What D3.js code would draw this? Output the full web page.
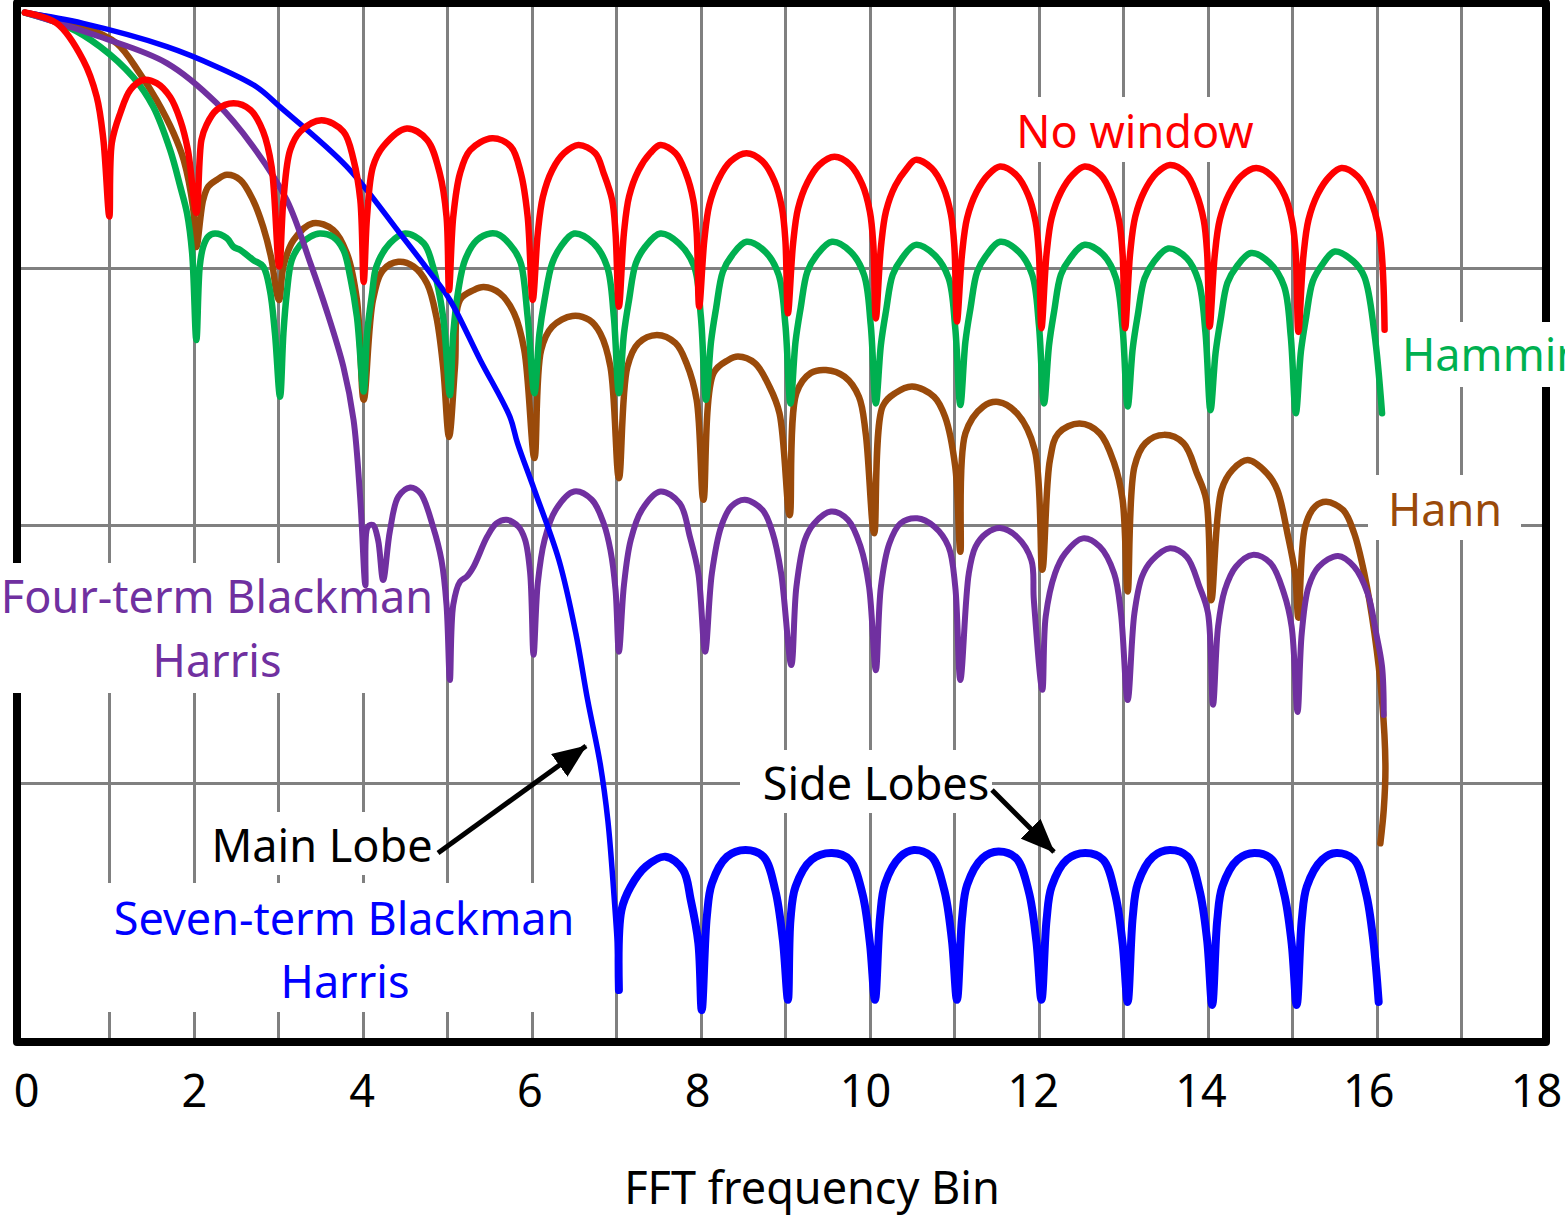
<!DOCTYPE html>
<html lang="en">

<head>
    <meta charset="UTF-8">
    <title>FFT window spectra</title>
    <script src="https://d3js.org/d3.v7.min.js"></script>
    <style>
        body { margin: 0; background: white; }
        svg text { font-family: "Noto Sans", "Open Sans", sans-serif; }
    </style>
</head>

<body>
    <script>
        // x in FFT bins, y in dB
        const xTicks = [0, 2, 4, 6, 8, 10, 12, 14, 16, 18];
        const gridBins = [1, 2, 3, 4, 5, 6, 7, 8, 9, 10, 11, 12, 13, 14, 15, 16, 17];
        const gridDb = [-50, -100, -150];

        const noWindow = [
            [0, -0.5], [0.38, -2.6], [0.69, -9.7], [0.85, -16.8], [0.93, -25.2], [1.00, -40.1],
            [1.03, -25.8], [1.13, -20.0], [1.25, -15.5], [1.40, -13.6], [1.56, -14.2], [1.72, -16.9], [1.84, -21.4], [1.93, -27.2], [2.03, -39.4],
            [2.09, -25.2], [2.15, -22.3], [2.27, -19.4], [2.47, -18.1], [2.67, -19.4], [2.82, -23.6], [2.92, -30.4], [3.01, -49.8],
            [3.06, -36.9], [3.14, -27.2], [3.26, -23.6], [3.51, -21.4], [3.77, -23.6], [3.89, -29.1], [3.97, -36.9], [4.01, -52.8],
            [4.05, -40.1], [4.12, -30.4], [4.24, -26.5], [4.52, -23.0], [4.76, -25.2], [4.91, -31.7], [4.99, -40.1], [5.02, -54.4],
            [5.07, -40.1], [5.15, -31.7], [5.27, -27.2], [5.53, -24.9], [5.75, -26.5], [5.87, -31.7], [5.95, -40.1], [6.01, -56.3],
            [6.07, -43.3], [6.13, -36.3], [6.24, -31.1], [6.38, -27.8], [6.55, -26.2], [6.75, -27.8], [6.85, -31.7], [6.95, -36.9], [6.99, -43.3], [7.03, -57.6],
            [7.09, -43.2], [7.15, -36.2], [7.26, -31.2], [7.40, -27.8], [7.52, -26.2], [7.70, -27.8], [7.82, -31.6], [7.91, -36.9], [7.95, -43.2], [7.98, -57.6],
            [8.04, -44.8], [8.10, -37.8], [8.21, -32.8], [8.35, -29.4], [8.54, -27.8], [8.73, -29.4], [8.87, -33.2], [8.96, -38.5], [9.00, -44.8], [9.03, -58.9],
            [9.09, -45.5], [9.15, -38.5], [9.26, -33.5], [9.40, -30.1], [9.58, -28.5], [9.77, -30.1], [9.91, -33.9], [10.00, -39.2], [10.04, -45.5], [10.07, -59.9],
            [10.13, -46.1], [10.19, -39.1], [10.30, -34.1], [10.44, -30.7], [10.54, -29.1], [10.73, -30.7], [10.87, -34.5], [10.96, -39.8], [11.00, -46.1], [11.03, -60.5],
            [11.09, -47.4], [11.15, -40.4], [11.26, -35.4], [11.40, -32.0], [11.54, -30.4], [11.73, -32.0], [11.87, -35.8], [11.96, -41.1], [12.00, -47.4], [12.03, -61.8],
            [12.09, -47.4], [12.15, -40.4], [12.26, -35.4], [12.40, -32.0], [12.54, -30.4], [12.73, -32.0], [12.86, -35.8], [12.95, -41.1], [12.99, -47.4], [13.02, -61.8],
            [13.08, -47.1], [13.14, -40.1], [13.25, -35.1], [13.39, -31.7], [13.55, -30.1], [13.74, -31.7], [13.86, -35.5], [13.95, -40.8], [13.99, -47.1], [14.02, -61.5],
            [14.08, -47.7], [14.14, -40.7], [14.25, -35.7], [14.39, -32.3], [14.57, -30.7], [14.76, -32.3], [14.91, -36.1], [15.00, -41.4], [15.04, -47.7], [15.07, -62.5],
            [15.13, -47.7], [15.19, -40.7], [15.30, -35.7], [15.44, -32.3], [15.58, -30.7], [15.77, -32.3], [15.90, -35.8], [16.03, -43.4], [16.09, -62.1]
        ];

        const hamming = [
            [0, -0.5], [0.50, -3.2], [0.89, -7.1], [1.28, -13.0], [1.52, -18.8], [1.72, -27.2], [1.84, -34.3], [1.92, -39.5], [1.98, -47.2], [2.03, -64.1],
            [2.07, -49.8], [2.11, -46.0], [2.17, -44.0], [2.25, -43.4], [2.39, -44.3], [2.47, -46.0], [2.55, -46.6], [2.70, -48.5], [2.82, -49.8], [2.90, -54.4], [2.96, -62.8], [3.02, -75.1],
            [3.06, -62.8], [3.10, -55.0], [3.16, -48.5], [3.26, -45.6], [3.38, -44.0], [3.49, -43.4], [3.65, -44.1], [3.77, -46.6], [3.85, -51.8], [3.93, -59.6], [4.01, -74.1],
            [4.05, -62.8], [4.11, -55.0], [4.16, -49.8], [4.32, -45.3], [4.50, -43.4], [4.72, -45.3], [4.83, -49.8], [4.95, -59.6], [5.03, -74.8],
            [5.07, -62.8], [5.13, -54.4], [5.21, -48.5], [5.35, -44.7], [5.51, -43.4], [5.62, -43.7], [5.79, -46.6], [5.87, -49.2], [5.95, -59.6], [6.03, -74.4],
            [6.09, -62.8], [6.15, -56.3], [6.24, -49.2], [6.34, -46.0], [6.50, -43.4], [6.73, -45.3], [6.89, -49.8], [6.97, -59.6], [7.03, -74.4],
            [7.09, -62.8], [7.15, -56.3], [7.23, -49.2], [7.34, -46.0], [7.52, -43.4], [7.74, -45.3], [7.92, -49.8], [8.00, -59.6], [8.06, -75.7],
            [8.12, -64.4], [8.18, -57.9], [8.26, -50.8], [8.37, -47.6], [8.54, -45.0], [8.76, -46.9], [8.92, -51.4], [9.00, -61.2], [9.06, -76.4],
            [9.12, -64.4], [9.18, -57.9], [9.26, -50.8], [9.37, -47.6], [9.55, -45.0], [9.77, -46.9], [9.93, -51.4], [10.01, -61.2], [10.07, -76.4],
            [10.13, -65.0], [10.19, -58.5], [10.27, -51.4], [10.38, -48.2], [10.54, -45.6], [10.76, -47.5], [10.93, -52.0], [11.01, -61.8], [11.07, -76.7],
            [11.13, -64.4], [11.19, -57.9], [11.27, -50.8], [11.38, -47.6], [11.54, -45.0], [11.76, -46.9], [11.92, -51.4], [12.00, -61.2], [12.06, -76.4],
            [12.12, -65.0], [12.18, -58.5], [12.26, -51.4], [12.37, -48.2], [12.54, -45.6], [12.76, -47.5], [12.91, -52.0], [12.99, -61.8], [13.05, -77.0],
            [13.11, -65.7], [13.17, -59.2], [13.25, -52.1], [13.36, -48.9], [13.53, -46.3], [13.75, -48.2], [13.89, -52.7], [13.97, -62.5], [14.03, -77.7],
            [14.09, -66.6], [14.15, -60.1], [14.23, -53.0], [14.34, -49.8], [14.51, -47.2], [14.73, -49.1], [14.90, -53.6], [14.98, -63.4], [15.04, -78.3],
            [15.10, -66.3], [15.16, -59.8], [15.24, -52.7], [15.35, -49.5], [15.50, -46.9], [15.72, -48.8], [15.85, -51.8], [15.97, -62.8], [16.06, -78.3]
        ];

        const hann = [
            [0, -0.5], [0.69, -3.2], [1.09, -6.5], [1.36, -12.3], [1.56, -17.5], [1.76, -23.9], [1.88, -29.1], [1.99, -38.2], [2.03, -46.0],
            [2.11, -36.9], [2.17, -34.3], [2.27, -33.0], [2.39, -32.0], [2.55, -33.0], [2.70, -36.9], [2.82, -42.1], [2.92, -48.5], [2.98, -55.0], [3.01, -56.3],
            [3.06, -49.8], [3.18, -44.7], [3.41, -41.4], [3.65, -42.7], [3.81, -47.2], [3.93, -56.3], [4.01, -75.7],
            [4.12, -56.3], [4.24, -50.5], [4.42, -48.9], [4.60, -49.8], [4.76, -53.1], [4.87, -59.6], [4.95, -69.3], [5.02, -82.9],
            [5.09, -69.3], [5.15, -56.3], [5.31, -54.4], [5.43, -53.8], [5.62, -55.0], [5.79, -58.9], [5.91, -66.0], [6.03, -87.0],
            [6.11, -66.0], [6.24, -61.5], [6.48, -59.4], [6.68, -60.2], [6.81, -62.8], [6.93, -69.3], [7.03, -90.9],
            [7.13, -69.3], [7.26, -64.7], [7.48, -63.1], [7.70, -64.7], [7.83, -68.6], [7.95, -75.7], [8.03, -95.1],
            [8.15, -70.5], [8.32, -68.0], [8.44, -67.3], [8.64, -68.6], [8.81, -73.1], [8.93, -78.3], [9.05, -98.1],
            [9.13, -74.4], [9.30, -70.5], [9.48, -69.9], [9.70, -71.2], [9.87, -75.1], [9.95, -82.2], [10.05, -101.6],
            [10.15, -77.0], [10.30, -74.4], [10.50, -73.1], [10.76, -75.1], [10.89, -79.0], [11.01, -88.7], [11.07, -105.2],
            [11.13, -82.2], [11.34, -77.0], [11.52, -76.1], [11.74, -78.3], [11.95, -85.4], [12.04, -108.7],
            [12.13, -87.4], [12.23, -82.2], [12.48, -80.3], [12.72, -82.2], [12.89, -88.0], [12.99, -95.1], [13.05, -112.9],
            [13.13, -88.7], [13.26, -84.1], [13.48, -82.5], [13.71, -84.1], [13.87, -90.0], [13.98, -95.1], [14.04, -114.6],
            [14.16, -93.2], [14.29, -89.3], [14.47, -87.4], [14.70, -90.0], [14.82, -93.2], [14.94, -101.6], [15.03, -109.4], [15.07, -118.0],
            [15.15, -100.3], [15.27, -96.4], [15.40, -95.5], [15.60, -97.1], [15.73, -101.6], [15.85, -109.4], [15.97, -121.0],
            [16.06, -134.0], [16.10, -146.9], [16.08, -155.3], [16.04, -161.8]
        ];

        const blackmanHarris4 = [
            [0, -0.5], [0.89, -5.2], [1.68, -10.3], [2.27, -18.1], [2.70, -26.5], [3.10, -36.9], [3.38, -49.2], [3.57, -58.3], [3.77, -69.3], [3.89, -79.6], [3.97, -95.1], [4.03, -111.7],
            [4.06, -100.3], [4.12, -100.0], [4.18, -102.9], [4.24, -110.7],
            [4.32, -101.2], [4.42, -94.5], [4.56, -92.7], [4.68, -93.8], [4.83, -100.3], [4.93, -106.8], [4.99, -115.5], [5.03, -130.1],
            [5.07, -115.5], [5.15, -111.0], [5.23, -110.0], [5.31, -108.1], [5.47, -102.3], [5.58, -99.7], [5.70, -99.0], [5.84, -100.3], [5.92, -102.9], [5.98, -109.4], [6.02, -125.2],
            [6.07, -111.3], [6.15, -102.9], [6.28, -97.1], [6.50, -93.5], [6.71, -95.1], [6.85, -99.7], [6.93, -104.9], [6.99, -112.6], [7.03, -124.6],
            [7.09, -111.6], [7.17, -102.9], [7.30, -97.1], [7.52, -93.5], [7.75, -95.8], [7.87, -102.3], [7.97, -109.4], [8.05, -124.6],
            [8.13, -109.4], [8.24, -100.3], [8.36, -96.4], [8.52, -95.1], [8.73, -97.1], [8.85, -101.6], [8.95, -109.4], [9.07, -127.2],
            [9.13, -112.0], [9.23, -102.9], [9.34, -99.7], [9.54, -97.4], [9.74, -99.0], [9.89, -104.2], [9.99, -112.0], [10.07, -128.2],
            [10.13, -112.0], [10.23, -103.6], [10.36, -99.7], [10.56, -98.7], [10.76, -100.3], [10.93, -104.2], [11.01, -112.0], [11.07, -130.1],
            [11.17, -109.4], [11.25, -104.2], [11.38, -101.6], [11.54, -100.6], [11.74, -102.3], [11.91, -106.8], [11.94, -114.6], [12.04, -132.0],
            [12.08, -117.8], [12.19, -109.4], [12.31, -105.5], [12.52, -102.6], [12.72, -104.2], [12.89, -109.4], [12.97, -117.1], [13.05, -134.0],
            [13.13, -117.1], [13.22, -110.0], [13.34, -106.8], [13.55, -104.5], [13.75, -106.2], [13.90, -112.0], [14.00, -117.1], [14.06, -134.9],
            [14.12, -119.7], [14.20, -112.6], [14.33, -108.1], [14.53, -105.8], [14.74, -107.4], [14.90, -113.3], [14.99, -119.7], [15.06, -136.3],
            [15.11, -121.0], [15.19, -112.0], [15.31, -108.1], [15.54, -106.0], [15.73, -108.1], [15.89, -113.3], [15.99, -121.0], [16.06, -127.5], [16.08, -136.9]
        ];

        const blackmanHarris7 = [
            [0, -0.5], [0.69, -2.6], [1.68, -7.1], [2.27, -11.0], [2.74, -14.9], [3.02, -18.8], [3.81, -30.4], [4.44, -43.4], [4.80, -51.1], [5.03, -56.3],
            [5.39, -68.0], [5.74, -79.0], [5.83, -84.1], [6.03, -93.2], [6.32, -106.8], [6.52, -121.0], [6.66, -134.0], [6.81, -146.5], [6.90, -157.5],
            [6.97, -171.5], [7.01, -181.2], [7.03, -190.3],
            [7.06, -174.8], [7.17, -170.2], [7.35, -166.3], [7.58, -164.4], [7.79, -167.0], [7.88, -172.8], [7.97, -181.2], [8.01, -194.2],
            [8.07, -176.1], [8.13, -169.6], [8.31, -164.4], [8.53, -163.1], [8.74, -164.4], [8.88, -170.9], [8.97, -180.6], [9.03, -192.2],
            [9.06, -176.7], [9.12, -170.2], [9.31, -165.0], [9.55, -163.7], [9.76, -165.0], [9.91, -171.5], [10.00, -181.2], [10.06, -192.2],
            [10.12, -176.1], [10.18, -169.6], [10.36, -164.4], [10.52, -163.1], [10.73, -164.4], [10.88, -170.9], [10.97, -180.6], [11.03, -192.2],
            [11.09, -176.4], [11.15, -169.9], [11.33, -164.7], [11.52, -163.4], [11.73, -164.7], [11.88, -171.2], [11.97, -180.9], [12.03, -192.2],
            [12.09, -176.7], [12.15, -170.2], [12.33, -165.0], [12.55, -163.7], [12.76, -165.0], [12.90, -171.5], [12.99, -181.2], [13.05, -192.6],
            [13.11, -176.1], [13.17, -169.6], [13.35, -164.4], [13.55, -163.1], [13.76, -164.4], [13.90, -170.9], [13.99, -180.6], [14.05, -193.2],
            [14.11, -176.7], [14.17, -170.2], [14.35, -165.0], [14.55, -163.7], [14.76, -165.0], [14.90, -171.5], [14.99, -181.2], [15.05, -193.2],
            [15.11, -176.7], [15.17, -170.2], [15.35, -165.0], [15.52, -163.7], [15.73, -165.0], [15.87, -171.5], [15.96, -181.2], [16.02, -192.6]
        ];

        const width = 1565;
        const height = 1217;

        const svg = d3.select("body").append("svg")
            .attr("width", width)
            .attr("height", height);

        const x = d3.scaleLinear().domain([0, 18]).range([24.8, 1546]);
        const xLabel = d3.scaleLinear().domain([0, 18]).range([26, 1536]);   // tick labels sit a little left
        const y = d3.scaleLinear().domain([-200, 0]).range([1040, 10]);

        // grid (snapped to whole pixels so the 3px lines stay crisp)
        svg.append("g").selectAll("line")
            .data(gridBins)
            .enter().append("line")
            .attr("x1", d => Math.round(x(d)) + 0.5).attr("x2", d => Math.round(x(d)) + 0.5)
            .attr("y1", 3).attr("y2", 1042)
            .attr("stroke", "#808080").attr("stroke-width", 3);

        svg.append("g").selectAll("line")
            .data(gridDb)
            .enter().append("line")
            .attr("x1", 17).attr("x2", 1546)
            .attr("y1", d => Math.round(y(d)) + 0.5).attr("y2", d => Math.round(y(d)) + 0.5)
            .attr("stroke", "#808080").attr("stroke-width", 3);

        // frame
        svg.append("rect")
            .attr("x", 17).attr("y", 3)
            .attr("width", 1529).attr("height", 1039)
            .attr("fill", "none")
            .attr("stroke", "black").attr("stroke-width", 8)
            .attr("stroke-linejoin", "round");

        // white boxes behind the labels
        const boxes = [
            [1000, 97, 265, 65], [1390, 322, 180, 65], [1368, 475, 153, 65],
            [0, 563, 440, 130], [200, 812, 240, 63], [100, 883, 490, 129], [740, 750, 252, 63]
        ];
        svg.append("g").selectAll("rect")
            .data(boxes)
            .enter().append("rect")
            .attr("x", d => d[0]).attr("y", d => d[1])
            .attr("width", d => d[2]).attr("height", d => d[3])
            .attr("fill", "white");

        const line = d3.line()
            .x(d => x(d[0]))
            .y(d => y(d[1]))
            .curve(d3.curveCatmullRom.alpha(0.5));

        function drawCurve(points, color, w) {
            svg.append("path")
                .attr("d", line(points))
                .attr("fill", "none")
                .attr("stroke", color)
                .attr("stroke-width", w)
                .attr("stroke-linecap", "round")
                .attr("stroke-linejoin", "round");
        }

        const split = blackmanHarris7.findIndex(d => d[0] >= 7.03);

        drawCurve(hann, "#9A4A0A", 6.5);
        drawCurve(hamming, "#00B050", 6.5);
        drawCurve(blackmanHarris4, "#7030A0", 6);
        drawCurve(blackmanHarris7.slice(0, split + 1), "#0000FF", 5.5);
        drawCurve(blackmanHarris7.slice(split), "#0000FF", 8);
        drawCurve(noWindow, "#FF0000", 6.5);

        // arrows
        svg.append("defs").append("marker")
            .attr("id", "head")
            .attr("markerUnits", "userSpaceOnUse")
            .attr("markerWidth", 34).attr("markerHeight", 28)
            .attr("refX", 33).attr("refY", 14)
            .attr("orient", "auto")
            .append("path")
            .attr("d", "M0,0 L34,14 L0,28 Z")
            .attr("fill", "black");

        const arrows = [[438, 853, 586, 746], [992, 790, 1054, 852]];
        svg.append("g").selectAll("line")
            .data(arrows)
            .enter().append("line")
            .attr("x1", d => d[0]).attr("y1", d => d[1])
            .attr("x2", d => d[2]).attr("y2", d => d[3])
            .attr("stroke", "black").attr("stroke-width", 5)
            .attr("marker-end", "url(#head)");

        // labels
        const labels = [
            ["No window", 1135, 148, "#FF0000", "middle"],
            ["Hamming", 1402, 371, "#00B050", "start"],
            ["Hann", 1445, 526, "#9A4A0A", "middle"],
            ["Four-term Blackman", 217, 613, "#7030A0", "middle"],
            ["Harris", 217, 677, "#7030A0", "middle"],
            ["Main Lobe", 322, 862, "black", "middle"],
            ["Seven-term Blackman", 344, 935, "#0000FF", "middle"],
            ["Harris", 345, 998, "#0000FF", "middle"],
            ["Side Lobes", 876, 800, "black", "middle"]
        ];
        svg.append("g").selectAll("text")
            .data(labels)
            .enter().append("text")
            .attr("x", d => d[1]).attr("y", d => d[2])
            .attr("fill", d => d[3])
            .attr("text-anchor", d => d[4])
            .style("font-size", "45px")
            .text(d => d[0]);

        // x axis labels
        const axis = svg.append("g")
            .attr("transform", "translate(0,1107)")
            .call(d3.axisBottom(xLabel).tickValues(xTicks).tickSize(0).tickFormat(d3.format("d")));
        axis.select(".domain").remove();
        axis.selectAll("text")
            .attr("y", 0).attr("dy", null)
            .attr("fill", "black")
            .style("font-size", "45px")
            .style("font-family", "'Noto Sans', sans-serif");

        svg.append("text")
            .attr("x", 812).attr("y", 1204)
            .attr("text-anchor", "middle")
            .style("font-size", "45px")
            .text("FFT frequency Bin");
    </script>
</body>

</html>
